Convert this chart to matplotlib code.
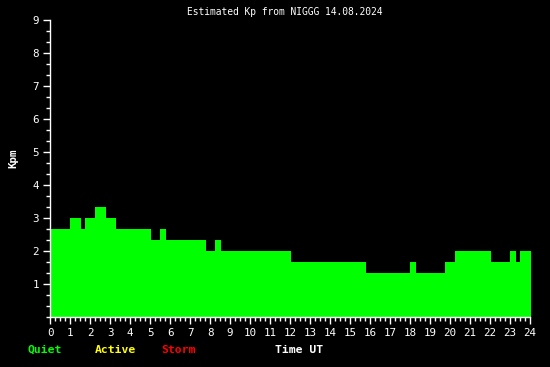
import matplotlib
matplotlib.use("Agg")
import matplotlib.pyplot as plt
from matplotlib.ticker import MultipleLocator, FixedLocator

# Step boundaries (hours UT) and estimated Kp values
edges = [0.0, 1.0, 1.55, 1.75, 2.25, 2.8, 3.3, 5.05, 5.5, 5.8, 7.8, 8.25, 8.55,
         12.05, 15.8, 18.0, 18.3, 19.75, 20.25, 22.05, 23.0, 23.3, 23.5, 24.05]
kp = [2.67, 3.0, 2.67, 3.0, 3.33, 3.0, 2.67, 2.33, 2.67, 2.33, 2.0, 2.33, 2.0,
      1.67, 1.33, 1.67, 1.33, 1.67, 2.0, 1.67, 2.0, 1.67, 2.0]
x_ticks = list(range(0, 25))
y_ticks = list(range(1, 10))

title = "Estimated Kp from NIGGG 14.08.2024"
font = "DejaVu Sans Mono"

fig = plt.figure(figsize=(5.5, 3.67), dpi=100, facecolor="black")
ax = fig.add_axes([50/550, 50/367, 480/550, 297/367], facecolor="black")

ax.stairs(kp, edges, fill=True, color="#00ff00", linewidth=0, clip_on=False)

ax.set_xlim(0, 24)
ax.set_ylim(0, 9)
ax.xaxis.set_major_locator(FixedLocator(x_ticks))
ax.xaxis.set_minor_locator(MultipleLocator(0.25))
ax.yaxis.set_major_locator(FixedLocator(y_ticks))
ax.yaxis.set_minor_locator(MultipleLocator(1/3))

for s in ["top", "right"]:
    ax.spines[s].set_visible(False)
for s in ["left", "bottom"]:
    ax.spines[s].set_color("white")
    ax.spines[s].set_linewidth(1)

ax.tick_params(which="major", colors="white", length=5, width=1, labelsize=7.8, pad=3)
ax.tick_params(which="minor", colors="white", length=3, width=1)
for lab in ax.get_xticklabels() + ax.get_yticklabels():
    lab.set_fontfamily(font)

fig.text(285/550, 1 - 12/367, title, color="white", fontsize=6.9, family=font,
         ha="center", va="center")
fig.text(13/550, 1 - 158/367, "Kpm", color="white", fontsize=7.8, family=font,
         weight="bold", rotation=90, ha="center", va="center")
fig.text(28/550, 1 - 350/367, "Quiet", color="#00ff00", fontsize=8.2, family=font,
         weight="bold", ha="left", va="center")
fig.text(95/550, 1 - 350/367, "Active", color="#ffff00", fontsize=8.2, family=font,
         weight="bold", ha="left", va="center")
fig.text(161/550, 1 - 350/367, "Storm", color="#ff0000", fontsize=8.2, family=font,
         weight="bold", ha="left", va="center")
fig.text(275/550, 1 - 350/367, "Time UT", color="white", fontsize=8.2, family=font,
         weight="bold", ha="left", va="center")

fig.savefig("out.png", dpi=100, facecolor="black")
